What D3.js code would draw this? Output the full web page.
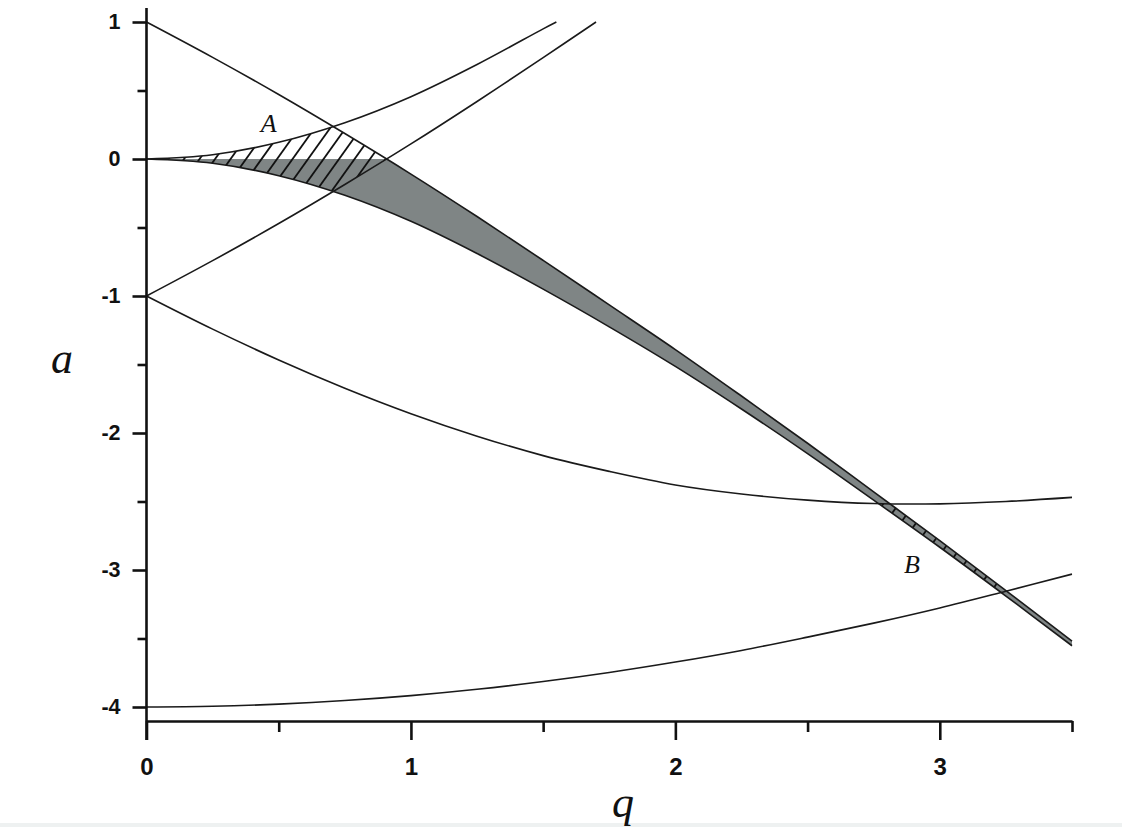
<!DOCTYPE html>
<html>
<head>
<meta charset="utf-8">
<script src="https://cdn.jsdelivr.net/npm/d3@7"></script>
<style>
  html, body { margin: 0; padding: 0; background: #fff; }
  svg { display: block; }
</style>
</head>
<body>
<script>
// ---------------- data ----------------
const qGrid      = [0, 0.25, 0.5, 0.75, 1, 1.25, 1.5, 1.75, 2, 2.25, 2.5, 2.75, 3, 3.25, 3.5];
// lower edge of the shaded band (curve leaving (0,0) downward)
const bandLower  = [0, -0.031, -0.122, -0.265, -0.455, -0.69, -0.95, -1.225, -1.514, -1.825, -2.15, -2.49, -2.834, -3.19, -3.553];
// upper edge of the shaded band (curve leaving (0,1) downward)
const bandUpper  = [1, 0.742, 0.471, 0.186, -0.110, -0.42, -0.74, -1.065, -1.391, -1.73, -2.075, -2.43, -2.785, -3.15, -3.52];
// curve leaving (0,-1) downward
const curveMid   = [-1, -1.242, -1.467, -1.673, -1.859, -2.023, -2.165, -2.28, -2.379, -2.445, -2.49, -2.515, -2.517, -2.50, -2.47];
// curve leaving (0,-4) upward
const curveLow   = [-4, -3.995, -3.979, -3.953, -3.917, -3.871, -3.814, -3.748, -3.672, -3.587, -3.49, -3.388, -3.277, -3.155, -3.03];
// curve leaving (0,0) upward
const qUp0       = [0, 0.25, 0.5, 0.75, 1, 1.25, 1.5, 1.55];
const curveUp0   = [0, 0.031, 0.122, 0.265, 0.455, 0.69, 0.95, 1.0];
// curve leaving (0,-1) upward
const qUp1       = [0, 0.25, 0.5, 0.75, 1, 1.25, 1.5, 1.7];
const curveUp1   = [-1, -0.742, -0.471, -0.186, 0.110, 0.42, 0.74, 1.0];

const xMajorTicks = [0, 1, 2, 3];
const xMinorTicks = [0.5, 1.5, 2.5, 3.5];
const yMajorTicks = [-4, -3, -2, -1, 0, 1];
const yMinorTicks = [-3.5, -2.5, -1.5, -0.5, 0.5];

const xTitle = "q", yTitle = "a";
const regionLabels = [{t: "A", q: 0.462, a: 0.195}, {t: "B", q: 2.895, a: -3.025}];

// ---------------- layout ----------------
const W = 1122, H = 827;
const x = d3.scaleLinear().domain([0, 3.5]).range([146.5, 1072]);
const y = d3.scaleLinear().domain([-4, 1]).range([707, 22]);
const axisY = 721;   // x-axis line position
const axisX = x(0);
const fmt = d => String(d);   // plain hyphen minus, as in the original

const svg = d3.select("body").append("svg").attr("width", W).attr("height", H);
svg.append("rect").attr("width", W).attr("height", H).attr("fill", "#fff");
svg.append("rect").attr("x", 0).attr("y", 823).attr("width", W).attr("height", H - 823).attr("fill", "#eef1f1");

const defs = svg.append("defs");
const curve = d3.curveCatmullRom.alpha(0.5);

function clipSide(id, qs, vs, side) {
  const area = d3.area()
    .x((d, i) => x(qs[i]))
    .y0(side === "below" ? 2000 : -2000)
    .y1(d => y(d))
    .curve(curve);
  defs.append("clipPath").attr("id", id).append("path").attr("d", area(vs));
}
clipSide("belowUp0", qUp0, curveUp0, "below");
clipSide("belowUpper", qGrid, bandUpper, "below");
clipSide("aboveLower", qGrid, bandLower, "above");
clipSide("aboveUp1", qUp1, curveUp1, "above");
clipSide("belowMid", qGrid, curveMid, "below");
clipSide("aboveLow", qGrid, curveLow, "above");
defs.append("clipPath").attr("id", "negHalf").append("rect")
  .attr("x", 0).attr("y", y(0)).attr("width", W).attr("height", H);

// ---------------- shaded band ----------------
const bandArea = d3.area()
  .x((d, i) => x(qGrid[i]))
  .y0((d, i) => y(bandLower[i]))
  .y1((d, i) => y(bandUpper[i]))
  .curve(curve);
svg.append("g").attr("clip-path", "url(#negHalf)")
  .append("path").attr("d", bandArea(qGrid))
  .attr("fill", "#7f8585").attr("stroke", "none");

// ---------------- hatching ----------------
function hatch(ids) {
  let g = svg.append("g");
  ids.forEach(id => { g = g.attr("clip-path", `url(#${id})`).append("g"); });
  const slope = 1.4, step = 15.5;
  const top = y(1.2), bot = axisY;
  const span = (bot - top) / slope;
  for (let px = x(0) - span; px < x(3.5) + 10; px += step) {
    g.append("line")
      .attr("x1", px).attr("y1", bot)
      .attr("x2", px + span).attr("y2", top)
      .attr("stroke", "#111").attr("stroke-width", 1.8);
  }
}
hatch(["belowUp0", "belowUpper", "aboveLower", "aboveUp1"]);
hatch(["belowUpper", "aboveLower", "belowMid", "aboveLow"]);

// ---------------- curves ----------------
function drawCurve(qs, vs) {
  const line = d3.line().x((d, i) => x(qs[i])).y(d => y(d)).curve(curve);
  svg.append("path").attr("d", line(vs))
    .attr("fill", "none").attr("stroke", "#1a1a1a").attr("stroke-width", 1.6);
}
drawCurve(qGrid, bandLower);
drawCurve(qGrid, bandUpper);
drawCurve(qGrid, curveMid);
drawCurve(qGrid, curveLow);
drawCurve(qUp0, curveUp0);
drawCurve(qUp1, curveUp1);

// ---------------- axes ----------------
const tickFont = "'Liberation Sans', Arial, sans-serif";

const gx = svg.append("g").attr("transform", `translate(0,${axisY})`)
  .call(d3.axisBottom(x).tickValues(xMajorTicks).tickSize(19).tickSizeOuter(0)
        .tickPadding(18).tickFormat(fmt));
svg.append("g").attr("transform", `translate(0,${axisY})`)
  .call(d3.axisBottom(x).tickValues(xMinorTicks).tickSize(11).tickSizeOuter(0).tickFormat(""))
  .select(".domain").remove();
gx.select(".domain").attr("stroke", "#111").attr("stroke-width", 2.6);
gx.selectAll("text").attr("font-family", tickFont).attr("font-size", 24)
  .attr("font-weight", "bold").attr("fill", "#111");

const gy = svg.append("g").attr("transform", `translate(${axisX},0)`)
  .call(d3.axisLeft(y).tickValues(yMajorTicks).tickSize(14).tickSizeOuter(0)
        .tickPadding(12).tickFormat(fmt));
svg.append("g").attr("transform", `translate(${axisX},0)`)
  .call(d3.axisLeft(y).tickValues(yMinorTicks).tickSize(9).tickSizeOuter(0).tickFormat(""))
  .select(".domain").remove();
gy.select(".domain").remove();
svg.append("line").attr("x1", axisX).attr("x2", axisX).attr("y1", 8).attr("y2", axisY + 19)
  .attr("stroke", "#111").attr("stroke-width", 2.6);
svg.selectAll("g.tick line").attr("stroke", "#111").attr("stroke-width", 2.6);
gy.selectAll("text").attr("font-family", tickFont).attr("font-size", 21.5)
  .attr("font-weight", "bold").attr("fill", "#111");

// ---------------- titles & labels ----------------
const serif = "'Liberation Serif', 'Times New Roman', serif";
svg.append("text").attr("x", 62).attr("y", 373).attr("text-anchor", "middle")
  .attr("font-family", serif).attr("font-style", "italic").attr("font-size", 44)
  .attr("fill", "#111").text(yTitle);
svg.append("text").attr("x", 623).attr("y", 817).attr("text-anchor", "middle")
  .attr("font-family", serif).attr("font-style", "italic").attr("font-size", 44)
  .attr("fill", "#111").text(xTitle);
regionLabels.forEach(l => {
  svg.append("text").attr("x", x(l.q)).attr("y", y(l.a)).attr("text-anchor", "middle")
    .attr("font-family", serif).attr("font-style", "italic").attr("font-size", 26)
    .attr("fill", "#111").text(l.t);
});
</script>
</body>
</html>
